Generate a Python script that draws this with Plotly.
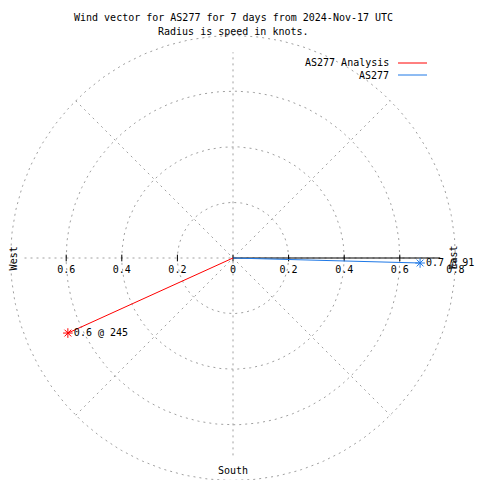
import numpy as np
import plotly.graph_objects as go

# ---- data ----
series_names = ["AS277 Analysis", "AS277"]
series_colors = ["#ff0000", "#1e78e6"]
u_vals = [-0.594, 0.673]          # east component (knots)
v_vals = [-0.270, -0.018]         # north component (knots)
vec_labels = ["0.6 @ 245", "0.7 @ 91"]
ring_radii = [0.2, 0.4, 0.6, 0.8]
tick_vals = [-0.6, -0.4, -0.2, 0.0, 0.2, 0.4, 0.6, 0.8]
tick_text = ["0.6", "0.4", "0.2", "0", "0.2", "0.4", "0.6", "0.8"]
title_lines = ["Wind vector for AS277 for 7 days from 2024-Nov-17 UTC",
               "Radius is speed in knots."]

FONT = dict(family="DejaVu Sans Mono", size=10, color="black")
GRID = "rgb(160,160,160)"
GDASH = "2px,4px"

fig = go.Figure()

# range rings
for r in ring_radii:
    th = np.linspace(0, 2 * np.pi, 361)
    fig.add_trace(go.Scatter(x=r * np.cos(th), y=r * np.sin(th), mode="lines",
                             line=dict(color=GRID, width=1, dash=GDASH),
                             hoverinfo="skip", showlegend=False))
# diagonals
R = ring_radii[-1]
d = R / np.sqrt(2)
for sx, sy in [(1, 1), (1, -1)]:
    fig.add_trace(go.Scatter(x=[-sx * d, sx * d], y=[-sy * d, sy * d], mode="lines",
                             line=dict(color=GRID, width=1, dash=GDASH),
                             hoverinfo="skip", showlegend=False))
# axes (dashed)
fig.add_trace(go.Scatter(x=[-0.75, 0.75], y=[0, 0], mode="lines",
                         line=dict(color=GRID, width=1, dash=GDASH),
                         hoverinfo="skip", showlegend=False))
fig.add_trace(go.Scatter(x=[0, 0], y=[-0.71, 0.74], mode="lines",
                         line=dict(color=GRID, width=1, dash=GDASH),
                         hoverinfo="skip", showlegend=False))
# solid black axis to the east
fig.add_trace(go.Scatter(x=[0, 0.745], y=[0, 0], mode="lines",
                         line=dict(color="black", width=1),
                         hoverinfo="skip", showlegend=False))
# tick marks
for t in tick_vals[:-1]:
    fig.add_trace(go.Scatter(x=[t, t], y=[-0.012, 0.012], mode="lines",
                             line=dict(color="black", width=1),
                             hoverinfo="skip", showlegend=False))
fig.add_trace(go.Scatter(x=tick_vals, y=[-0.045] * len(tick_vals), mode="text",
                         text=tick_text, textfont=FONT, textposition="middle center",
                         hoverinfo="skip", showlegend=False))

# vectors
for name, col, u, v, lab in zip(series_names, series_colors, u_vals, v_vals, vec_labels):
    fig.add_trace(go.Scatter(x=[0, u], y=[0, v], mode="lines",
                             line=dict(color=col, width=1), name=name, showlegend=False))
    fig.add_trace(go.Scatter(x=[u], y=[v], mode="markers+text",
                             marker=dict(symbol="asterisk-open", size=8,
                                         line=dict(color=col, width=1), color=col),
                             text=[lab], textposition="middle right",
                             textfont=FONT, showlegend=False, hoverinfo="skip"))

annotations = []
for i, yy in enumerate([18, 32]):
    annotations.append(dict(x=233 / 480, y=1 - yy / 480, xref="paper", yref="paper",
                            xanchor="center", yanchor="middle",
                            text=title_lines[i], showarrow=False, font=FONT))
# compass labels
annotations.append(dict(x=0, y=-0.764, text="South", showarrow=False, font=FONT,
                        xanchor="center", yanchor="middle"))
annotations.append(dict(x=-0.79, y=0, text="West", showarrow=False, font=FONT, textangle=-90,
                        xanchor="center", yanchor="middle"))
annotations.append(dict(x=0.79, y=0, text="East", showarrow=False, font=FONT, textangle=-90,
                        xanchor="center", yanchor="middle"))

# legend
shapes = []
leg_y = [63, 75]
for name, col, yy in zip(series_names, series_colors, leg_y):
    annotations.append(dict(x=391 / 480, y=1 - yy / 480, xref="paper", yref="paper",
                            xanchor="right", yanchor="middle",
                            text=name, showarrow=False, font=FONT))
    shapes.append(dict(type="line", xref="paper", yref="paper",
                       x0=398 / 480, x1=427 / 480, y0=1 - yy / 480, y1=1 - yy / 480,
                       line=dict(color=col, width=1)))

k = 278.0
fig.update_layout(
    width=480, height=480, autosize=False,
    margin=dict(l=0, r=0, t=0, b=0),
    paper_bgcolor="white", plot_bgcolor="white",
    xaxis=dict(range=[-233 / k, 247 / k], visible=False, fixedrange=True),
    yaxis=dict(range=[-(480 - 258) / k, 258 / k], visible=False, fixedrange=True),
    annotations=annotations, shapes=shapes, showlegend=False,
)

fig.write_html("out.html", config={"displayModeBar": False},
               post_script="document.body.style.margin='0';document.body.style.overflow='hidden';")
